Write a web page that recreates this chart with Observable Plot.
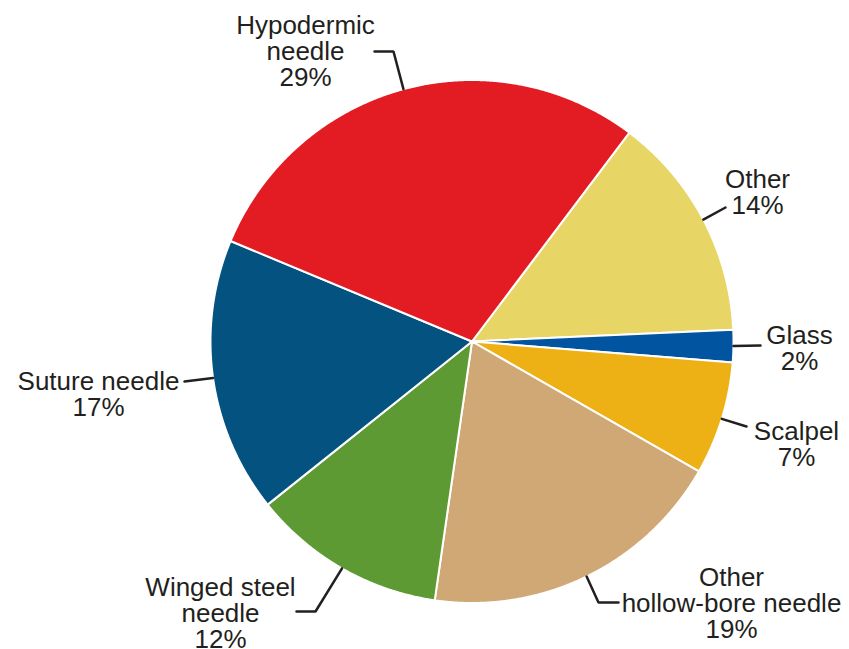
<!DOCTYPE html>
<html>
<head>
<meta charset="utf-8">
<script src="https://cdn.jsdelivr.net/npm/d3@7"></script>
<script src="https://cdn.jsdelivr.net/npm/@observablehq/plot@0.6"></script>
<style>
  html, body { margin: 0; padding: 0; background: #fff; }
  #chart { width: 849px; height: 649px; }
</style>
</head>
<body>
<div id="chart"></div>
<script>
// ---- Data ----
const categories = ["Other", "Glass", "Scalpel", "Other hollow-bore needle", "Winged steel needle", "Suture needle", "Hypodermic needle"];
const labelNames = ["Other", "Glass", "Scalpel", "Other\nhollow-bore needle", "Winged steel\nneedle", "Suture needle", "Hypodermic\nneedle"];
const values = [14, 2, 7, 19, 12, 17, 29];
const colors = ["#e7d665", "#0054a0", "#eeb115", "#cfa876", "#5d9a33", "#03527f", "#e31b23"];

// ---- Layout ----
const W = 849, H = 649;
const cx = 471.5, cy = 341, r = 261.5;
const startDeg = 37; // clockwise from 12 o'clock
// label anchor: center x, baseline of last line
const labelPos = {
  "Other": [757, 213],
  "Glass": [799, 369],
  "Scalpel": [796, 465],
  "Other hollow-bore needle": [731, 637],
  "Winged steel needle": [220, 647],
  "Suture needle": [98, 415],
  "Hypodermic needle": [305, 85]
};
// leader line points after the start on the pie edge
const leaderBends = {
  "Other": [[725, 207]],
  "Glass": [[760, 345]],
  "Scalpel": [[746, 426]],
  "Other hollow-bore needle": [[598, 602], [618, 602]],
  "Winged steel needle": [[315, 611], [296, 611]],
  "Suture needle": [[184, 381]],
  "Hypodermic needle": [[393, 51], [374, 51]]
};

const total = d3.sum(values);
const px = (deg, rad) => cx + rad * Math.sin(deg * Math.PI / 180);
const py = (deg, rad) => cy - rad * Math.cos(deg * Math.PI / 180);

const slices = [];
const leaders = [];
const labels = [];
let a = startDeg;
categories.forEach((key, i) => {
  const span = values[i] / total * 360;
  const a0 = a, a1 = a + span;
  slices.push({key, x: cx, y: cy});
  const n = Math.max(2, Math.ceil(span / 0.25));
  for (let k = 0; k <= n; k++) {
    const t = a0 + (a1 - a0) * k / n;
    slices.push({key, x: px(t, r), y: py(t, r)});
  }
  const mid = (a0 + a1) / 2;
  leaders.push({key, x: px(mid, r), y: py(mid, r)});
  for (const [bx, by] of leaderBends[key]) leaders.push({key, x: bx, y: by});
  labels.push({key, x: labelPos[key][0], y: labelPos[key][1], text: `${labelNames[i]}\n${values[i]}%`});
  a = a1;
});

const chart = Plot.plot({
  width: W,
  height: H,
  margin: 0,
  x: {domain: [0, W], range: [0, W], axis: null},
  y: {domain: [0, H], range: [0, H], axis: null},
  color: {type: "ordinal", domain: categories, range: colors},
  style: {fontFamily: "'Liberation Sans', Arial, Helvetica, sans-serif", background: "#fff"},
  marks: [
    Plot.line(slices, {x: "x", y: "y", z: "key", fill: "key", stroke: "white", strokeWidth: 2, strokeLinejoin: "round", curve: "linear-closed"}),
    Plot.line(leaders, {x: "x", y: "y", z: "key", stroke: "#231f20", strokeWidth: 2.5, strokeLinejoin: "miter"}),
    Plot.text(labels, {x: "x", y: "y", text: "text", fontSize: 26, lineHeight: 1.0, lineAnchor: "bottom", textAnchor: "middle", fill: "#231f20"})
  ]
});
document.getElementById("chart").appendChild(chart);
</script>
</body>
</html>
